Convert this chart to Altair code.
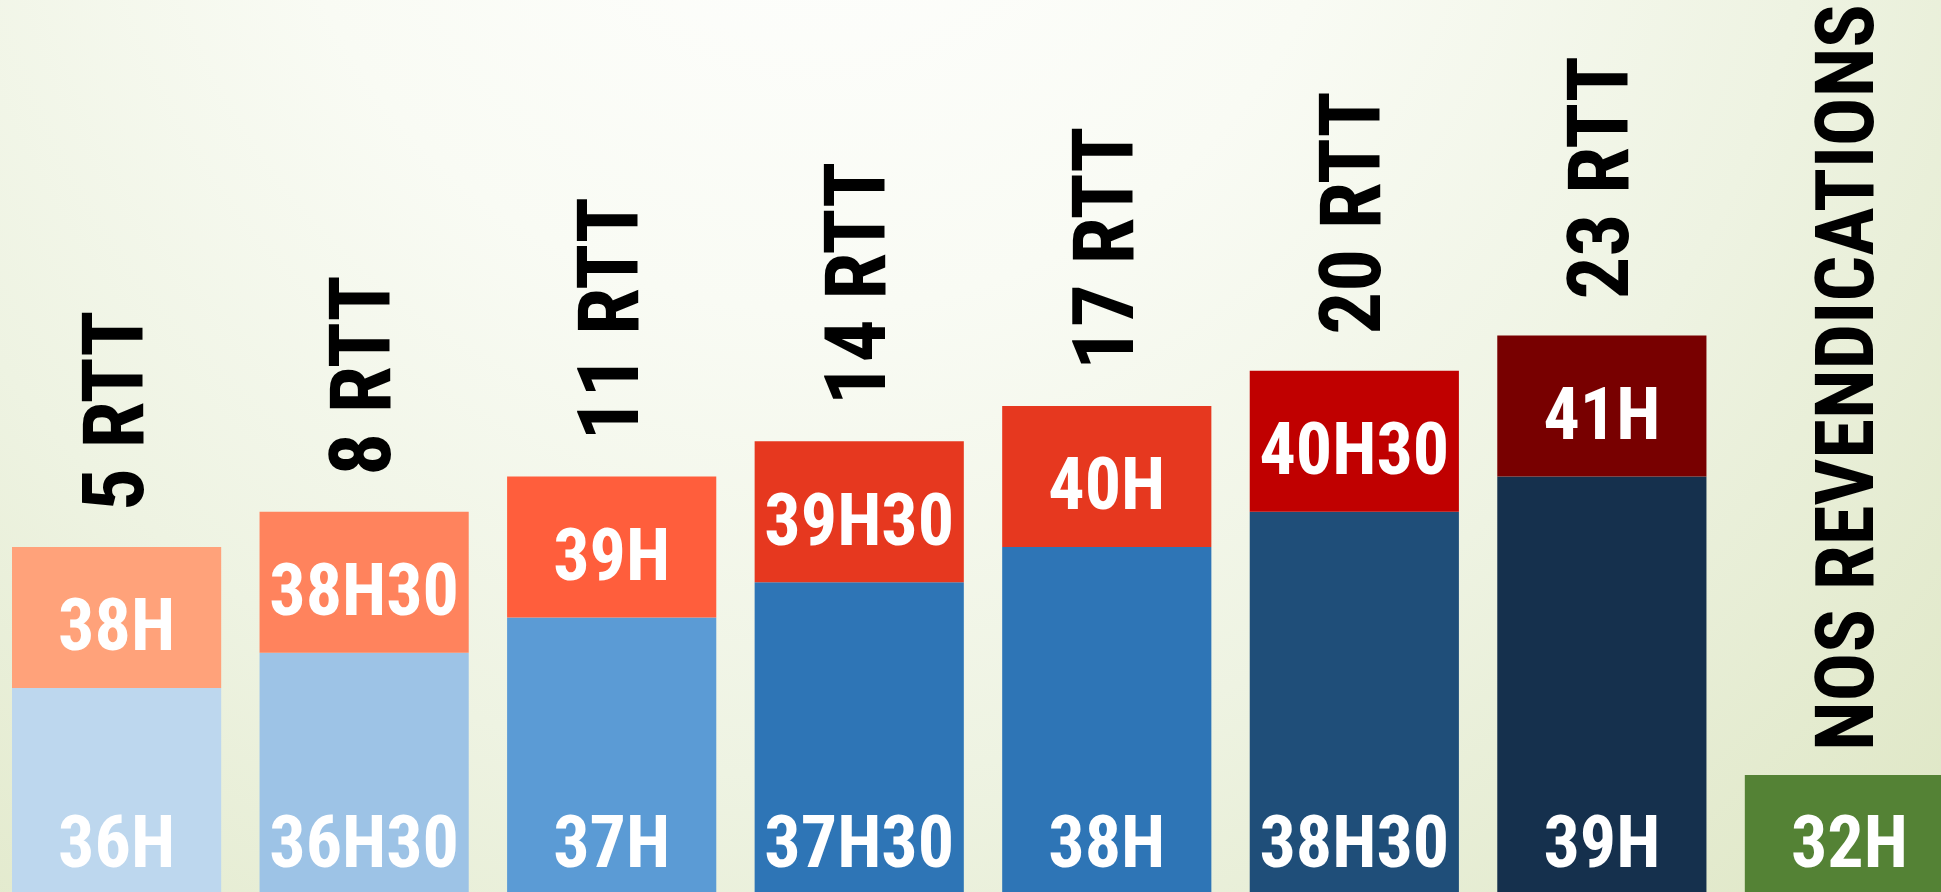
import altair as alt
import pandas as pd

# ---- data ----
categories = ["5 RTT", "8 RTT", "11 RTT", "14 RTT", "17 RTT", "20 RTT", "23 RTT", "NOS REVENDICATIONS"]
rtt_categories = ["5 RTT", "8 RTT", "11 RTT", "14 RTT", "17 RTT", "20 RTT", "23 RTT"]
base_hours = [36, 36.5, 37, 37.5, 38, 38.5, 39]
total_hours = [38, 38.5, 39, 39.5, 40, 40.5, 41]
base_labels = ["36H", "36H30", "37H", "37H30", "38H", "38H30", "39H"]
total_labels = ["38H", "38H30", "39H", "39H30", "40H", "40H30", "41H"]
base_colors = ["#bdd7ee", "#9dc3e6", "#5b9bd5", "#2e75b6", "#2e75b6", "#1f4e79", "#15304d"]
top_colors = ["#ffa27a", "#ff835d", "#ff5e3c", "#e6381f", "#e6381f", "#c00000", "#780000"]
claim_categories = ["NOS REVENDICATIONS"]
claim_hours = [32]
claim_labels = ["32H"]
claim_colors = ["#548235"]

# ---- layout ----
W, H = 1941, 892
Y_MIN = 33.106
Y_MAX = Y_MIN + H / 70.5
CLAIM_Y_MAX = 244
FONT = "Roboto Condensed, Liberation Sans Narrow, DejaVu Sans Condensed, sans-serif"
NUM_SIZE = 72
CAT_SIZE = 85
CLAIM_CAT_SIZE = 81

df = pd.DataFrame({
    "cat": rtt_categories,
    "base": base_hours,
    "total": total_hours,
    "base_label": base_labels,
    "total_label": total_labels,
    "base_color": base_colors,
    "top_color": top_colors,
})
df["mid"] = (df["base"] + df["total"]) / 2
df["floor"] = Y_MIN

claim_df = pd.DataFrame({
    "cat": claim_categories,
    "hours": claim_hours,
    "label": claim_labels,
    "color": claim_colors,
})
claim_df["floor"] = 0

hidden = alt.Axis(labels=False, ticks=False, domain=False, grid=False, title=None)
xscale = alt.Scale(domain=categories, range=[0, 1966], paddingInner=0.155, paddingOuter=0.0485)
x = alt.X("cat:N", scale=xscale, axis=None)
yscale = alt.Scale(domain=[Y_MIN, Y_MAX], zero=False, nice=False)
cscale = alt.Scale(domain=[0, CLAIM_Y_MAX], zero=True, nice=False)

gradient = {
    "gradient": "radial",
    "x1": 0.42, "y1": 0.15, "r1": 0,
    "x2": 0.42, "y2": 0.15, "r2": 0.8,
    "stops": [
        {"offset": 0, "color": "#ffffff"},
        {"offset": 0.35, "color": "#f9fbf4"},
        {"offset": 0.65, "color": "#eef3e2"},
        {"offset": 1, "color": "#dfe7c6"},
    ],
}

base = alt.Chart(df)

bg = base.transform_aggregate(n="count()").mark_rect(fill=gradient).encode(
    x=alt.value(0), x2=alt.value(W), y=alt.value(0), y2=alt.value(H)
)

base_bar = base.mark_bar(clip=True).encode(
    x=x,
    y=alt.Y("base:Q", scale=yscale, axis=hidden),
    y2="floor:Q",
    color=alt.Color("base_color:N", scale=None),
)
top_bar = base.mark_bar(clip=True).encode(
    x=x,
    y=alt.Y("total:Q", scale=yscale, axis=hidden),
    y2="base:Q",
    color=alt.Color("top_color:N", scale=None),
)
base_text = base.mark_text(
    baseline="alphabetic", dy=-25, fontSize=NUM_SIZE, font=FONT, fontWeight="bold", color="white"
).encode(x=x, y=alt.Y("floor:Q", scale=yscale, axis=hidden), text="base_label:N")
top_text = base.mark_text(
    baseline="alphabetic", dy=33, fontSize=NUM_SIZE, font=FONT, fontWeight="bold", color="white"
).encode(x=x, y=alt.Y("mid:Q", scale=yscale, axis=hidden), text="total_label:N")
cat_text = base.mark_text(
    angle=270, align="left", baseline="middle", dx=36, fontSize=CAT_SIZE, font=FONT,
    fontWeight="bold", color="black"
).encode(x=x, y=alt.Y("total:Q", scale=yscale, axis=hidden), text="cat:N")

main = alt.layer(bg, base_bar, top_bar, base_text, top_text, cat_text)

cbase = alt.Chart(claim_df)
claim_bar = cbase.mark_bar(clip=True).encode(
    x=x,
    y=alt.Y("hours:Q", scale=cscale, axis=hidden),
    y2="floor:Q",
    color=alt.Color("color:N", scale=None),
)
claim_text = cbase.mark_text(
    baseline="alphabetic", dy=-25, fontSize=NUM_SIZE, font=FONT, fontWeight="bold", color="white"
).encode(x=x, y=alt.Y("floor:Q", scale=cscale, axis=hidden), text="label:N")
claim_cat = cbase.mark_text(
    angle=270, align="left", baseline="middle", dx=24, fontSize=CLAIM_CAT_SIZE, font=FONT,
    fontWeight="bold", color="black"
).encode(x=x, y=alt.Y("hours:Q", scale=cscale, axis=hidden), text="cat:N")

claim = alt.layer(claim_bar, claim_text, claim_cat)

chart = (
    alt.layer(main, claim)
    .resolve_scale(y="independent")
    .properties(width=W, height=H, autosize=alt.AutoSizeParams(type="none"), padding=0,
                background="#eef3e2")
    .configure_view(stroke=None)
)

chart.save("out.html", embed_options={"renderer": "svg", "actions": False})
